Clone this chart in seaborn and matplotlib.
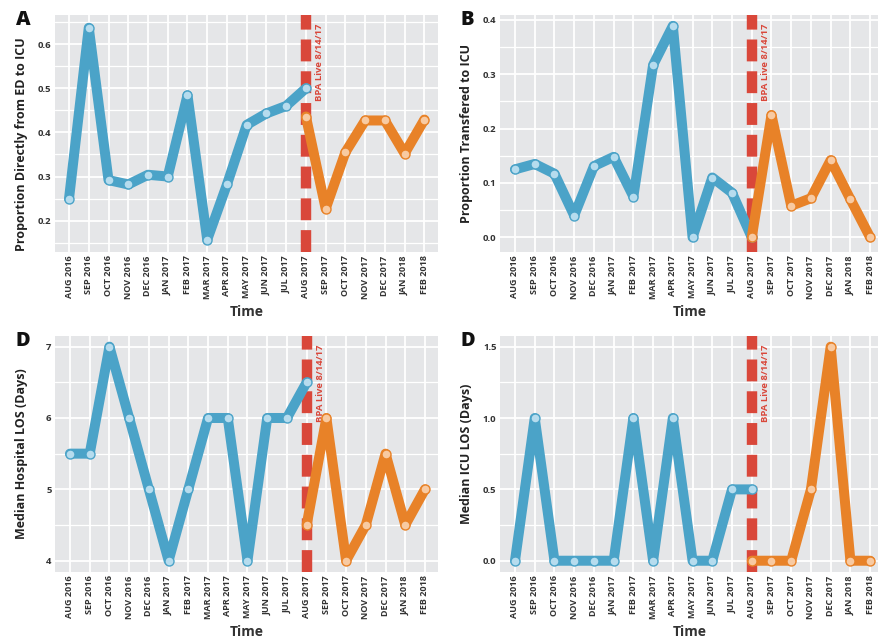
import matplotlib
matplotlib.use("Agg")
import matplotlib.pyplot as plt
import matplotlib.transforms as mtransforms
from matplotlib.ticker import MultipleLocator
import seaborn as sns
import pandas as pd
import numpy as np

months = ["AUG 2016", "SEP 2016", "OCT 2016", "NOV 2016", "DEC 2016", "JAN 2017",
          "FEB 2017", "MAR 2017", "APR 2017", "MAY 2017", "JUN 2017", "JUL 2017",
          "AUG 2017", "SEP 2017", "OCT 2017", "NOV 2017", "DEC 2017", "JAN 2018",
          "FEB 2018"]
pre_months = months[:13]
post_months = months[12:]

a_pre = [0.250, 0.637, 0.292, 0.282, 0.304, 0.300, 0.484, 0.157, 0.282, 0.417, 0.443, 0.460, 0.500]
a_post = [0.436, 0.227, 0.355, 0.427, 0.427, 0.352, 0.429]

b_pre = [0.125, 0.135, 0.117, 0.040, 0.131, 0.148, 0.075, 0.317, 0.389, 0.000, 0.110, 0.082, 0.000]
b_post = [0.000, 0.225, 0.058, 0.072, 0.142, 0.070, 0.000]

c_pre = [5.5, 5.5, 7.0, 6.0, 5.0, 4.0, 5.0, 6.0, 6.0, 4.0, 6.0, 6.0, 6.5]
c_post = [4.5, 6.0, 4.0, 4.5, 5.5, 4.5, 5.0]

d_pre = [0.0, 1.0, 0.0, 0.0, 0.0, 0.0, 1.0, 0.0, 1.0, 0.0, 0.0, 0.5, 0.5]
d_post = [0.0, 0.0, 0.0, 0.5, 1.5, 0.0, 0.0]

panel_letters = ["A", "B", "D", "D"]
ylabels = ["Proportion Directly from ED to ICU", "Proportion Transfered to ICU",
           "Median Hospital LOS (Days)", "Median ICU LOS (Days)"]
bpa_label = "BPA Live 8/14/17"
xlabel = "Time"

BLUE = "#4ba3c8"
BLUE_FACE = "#b6dcee"
ORANGE = "#e88228"
ORANGE_FACE = "#f8caa2"
RED = "#d9473a"
BG = "#e5e6e8"
TXT = "#333333"

sns.set_theme(style="darkgrid")
plt.rcParams["font.family"] = ["Open Sans", "DejaVu Sans"]

fig = plt.figure(figsize=(8.79, 6.39), dpi=100)
W, H = 879.0, 639.0

panels = [
    dict(pre=a_pre, post=a_post, box=(55, 15, 438, 252), ylim=(0.129, 0.666), major=0.1, minor=0.05,
         xlim=(-0.71, 18.69), fmt="{:.1f}", ly=0.455),
    dict(pre=b_pre, post=b_post, box=(500, 15, 879, 252), ylim=(-0.027, 0.409), major=0.1, minor=0.05,
         xlim=(-0.76, 18.45), fmt="{:.1f}", ly=0.5),
    dict(pre=c_pre, post=c_post, box=(55, 336, 438, 572), ylim=(3.84, 7.15), major=1.0, minor=0.5,
         xlim=(-0.76, 18.66), fmt="{:.0f}", ly=0.5),
    dict(pre=d_pre, post=d_post, box=(500, 336, 879, 572), ylim=(-0.079, 1.575), major=0.5, minor=0.25,
         xlim=(-0.76, 18.45), fmt="{:.1f}", ly=0.5),
]

xpos = {m: i for i, m in enumerate(months)}

for k, p in enumerate(panels):
    l, t, r, b = p["box"]
    ax = fig.add_axes([l / W, 1 - b / H, (r - l) / W, (b - t) / H])
    ax.set_facecolor(BG)
    for s in ax.spines.values():
        s.set_visible(False)

    pre_df = pd.DataFrame({"x": [xpos[m] for m in pre_months], "y": p["pre"]})
    post_df = pd.DataFrame({"x": [xpos[m] for m in post_months], "y": p["post"]})

    ax.axvline(xpos["AUG 2017"], color=RED, lw=7.5, dashes=(2.1, 0.95),
               solid_capstyle="butt", dash_capstyle="butt", zorder=1.5)
    trans = mtransforms.blended_transform_factory(ax.transData, ax.transAxes)
    ax.text(xpos["AUG 2017"] + 0.7, 0.962, bpa_label, rotation=90, ha="center", va="top",
            color=RED, fontsize=6.8, fontweight="bold", transform=trans, zorder=1.6)

    sns.lineplot(data=pre_df, x="x", y="y", ax=ax, color=BLUE, lw=7.2, marker="o",
                 markersize=6.5, markerfacecolor=BLUE_FACE, markeredgecolor=BLUE,
                 markeredgewidth=1.0, zorder=3, solid_joinstyle="round", solid_capstyle="round")
    sns.lineplot(data=post_df, x="x", y="y", ax=ax, color=ORANGE, lw=7.2, marker="o",
                 markersize=6.5, markerfacecolor=ORANGE_FACE, markeredgecolor=ORANGE,
                 markeredgewidth=1.0, zorder=4, solid_joinstyle="round", solid_capstyle="round")

    ax.set_xlim(*p["xlim"])
    ax.set_ylim(*p["ylim"])
    ax.set_xticks(range(len(months)))
    ax.set_xticklabels(months, rotation=90, fontsize=6.5, fontweight="bold", color=TXT)
    ax.yaxis.set_major_locator(MultipleLocator(p["major"]))
    ax.yaxis.set_minor_locator(MultipleLocator(p["minor"]))
    ax.yaxis.set_major_formatter(matplotlib.ticker.FuncFormatter(lambda v, pos, f=p["fmt"]: f.format(v)))
    for lab in ax.get_yticklabels():
        lab.set_fontsize(6.8)
        lab.set_fontweight("bold")
        lab.set_color(TXT)
    ax.tick_params(axis="both", which="both", length=0, pad=2.5)
    ax.grid(which="major", axis="both", color="white", lw=1.3)
    ax.grid(which="minor", axis="y", color="white", lw=0.9)
    ax.set_axisbelow(True)

    ax.set_xlabel(xlabel, fontsize=10, fontweight="bold", color=TXT, labelpad=4)
    ax.set_ylabel(ylabels[k], fontsize=9, fontweight="bold", color="#222222", va="center")
    ax.yaxis.set_label_coords(-33.0 / (r - l), p["ly"])

    fig.text((l - 39) / W, 1 - (t + 5) / H, panel_letters[k], fontsize=14.5, fontweight="heavy",
             color="#111111", ha="left", va="center")

fig.savefig("out.png", dpi=100, facecolor="white")
